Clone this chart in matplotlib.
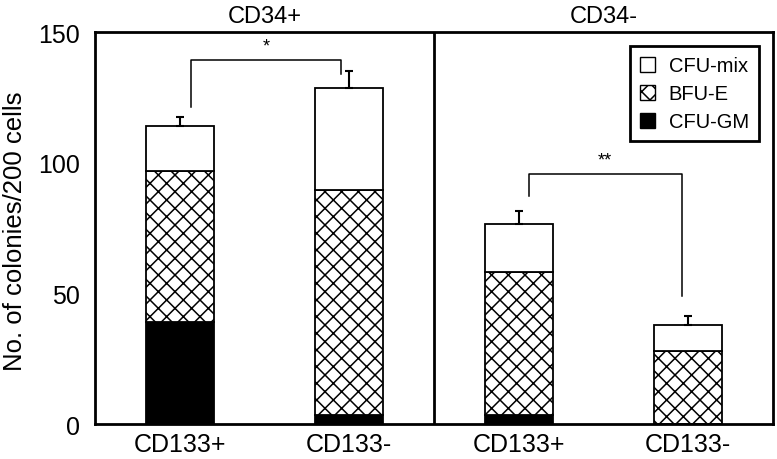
import matplotlib.pyplot as plt
import matplotlib.patches as mpatches

plt.rcParams['font.family'] = ['Liberation Sans', 'DejaVu Sans']
plt.rcParams['hatch.linewidth'] = 1.1

# ---------------- DATA ----------------
groups = ["CD34+", "CD34-"]
labels = ["CD133+", "CD133-", "CD133+", "CD133-"]
cfu_gm = [39, 3.5, 3.5, 0]
bfu_e = [58, 86, 54.5, 28]
cfu_mix = [17, 39, 18.5, 10]
err = [3.5, 6.5, 5, 3.5]

# significance brackets: (x_left, x_right, y_top, y_left_end, y_right_end, text)
brackets = [(0.07, 0.95, 139.3, 121.3, 134, "*"),
            (2.06, 2.96, 95.7, 87.3, 49, "**")]

# ---------------- PLOT ----------------
fig = plt.figure(figsize=(7.77, 4.6), dpi=100)
ax = fig.add_axes([0.122, 0.076, 0.873, 0.852])

x = list(range(len(labels)))
w = 0.4
bot2 = [a + b for a, b in zip(cfu_gm, bfu_e)]
tops = [a + b for a, b in zip(bot2, cfu_mix)]

ax.bar(x, cfu_gm, w, color="black", edgecolor="black", lw=1.3)
ax.bar(x, bfu_e, w, bottom=cfu_gm, color="white", edgecolor="black",
       hatch="xx", lw=1.3)
ax.bar(x, cfu_mix, w, bottom=bot2, color="white", edgecolor="black", lw=1.3)
ax.errorbar(x, tops, yerr=[[0] * len(x), err], fmt="none", ecolor="black",
            elinewidth=1.5, capsize=3, capthick=1.5)

for xl, xr, yt, yl, yr, txt in brackets:
    ax.plot([xl, xl, xr, xr], [yl, yt, yt, yr], color="black", lw=1.1)
    ax.text((xl + xr) / 2, yt + 2, txt, ha="center", va="bottom", fontsize=13)

ax.axvline(1.5, color="black", lw=2)
ax.set_xlim(-0.5, 3.5)
ax.set_ylim(0, 150)
ax.set_yticks([0, 50, 100, 150])
ax.set_xticks(x)
ax.set_xticklabels(labels, fontsize=18)
ax.tick_params(axis="both", length=0, labelsize=18)
ax.tick_params(axis="y", pad=11)
ax.tick_params(axis="x", pad=6)
for s in ax.spines.values():
    s.set_linewidth(2)

fig.text(15 / 777, 0.498, "No. of colonies/200 cells", rotation=90,
         ha="center", va="center", fontsize=18.5)

ax.text(0.5, 152, groups[0], ha="center", va="bottom", fontsize=17)
ax.text(2.5, 152, groups[1], ha="center", va="bottom", fontsize=17)

handles = [mpatches.Patch(facecolor="white", edgecolor="black", label="CFU-mix"),
           mpatches.Patch(facecolor="white", edgecolor="black", hatch="xx",
                          label="BFU-E"),
           mpatches.Patch(facecolor="black", edgecolor="black", label="CFU-GM")]
leg = ax.legend(handles=handles, loc="upper right", fontsize=14.5,
                handlelength=0.75, handleheight=0.75, handletextpad=0.7,
                fancybox=False, edgecolor="black", framealpha=1,
                borderaxespad=0.7, labelspacing=0.45, borderpad=0.5)
leg.get_frame().set_linewidth(2)

fig.savefig("out.png", dpi=100)
